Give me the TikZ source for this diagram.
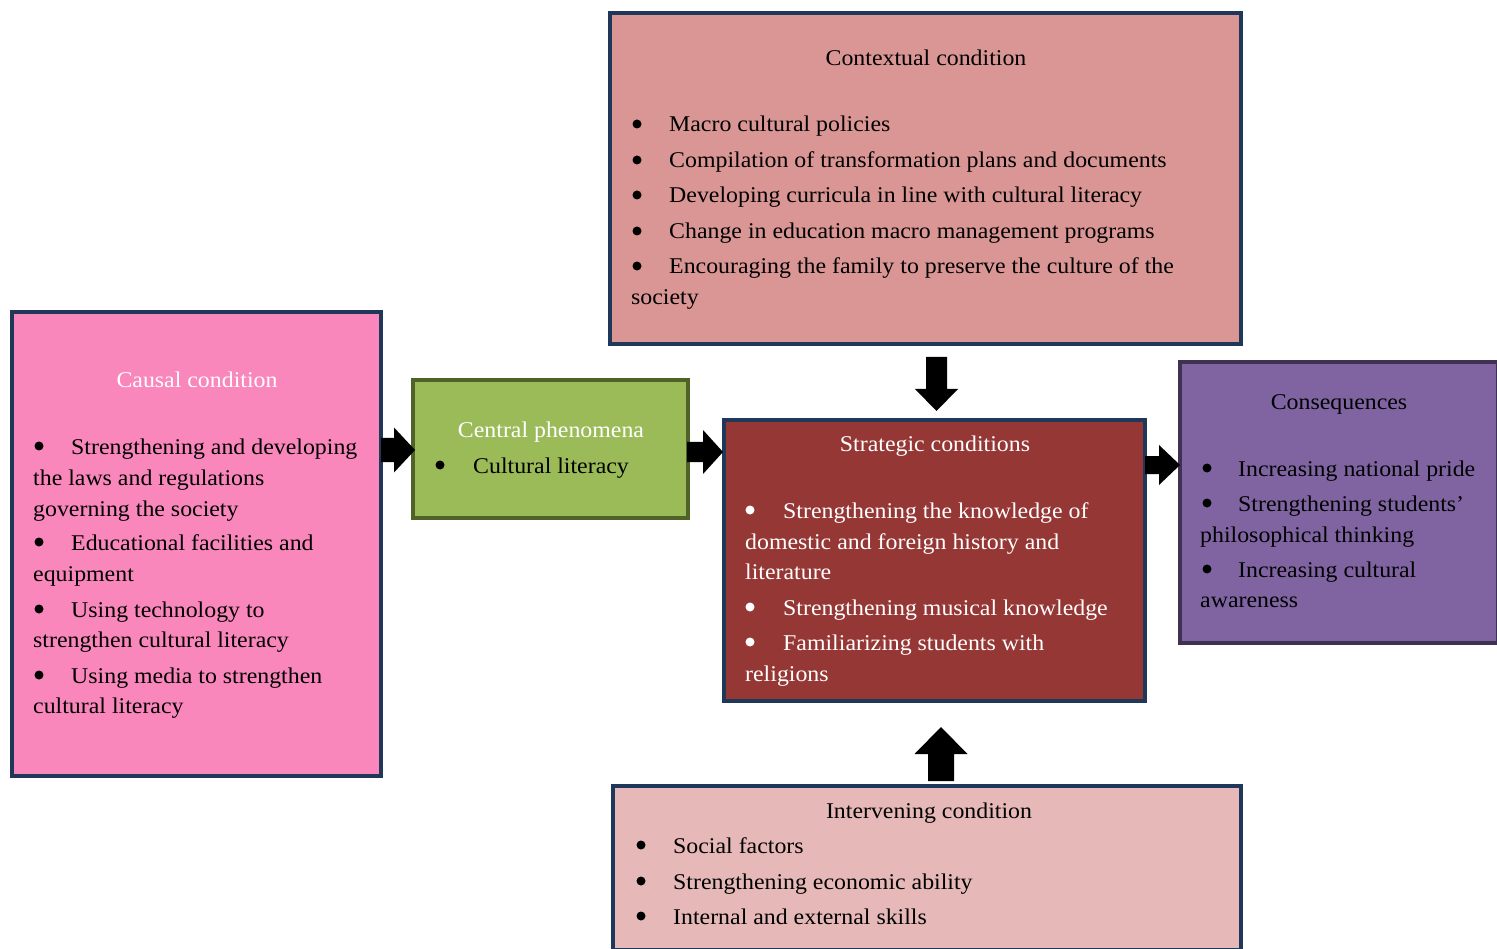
\documentclass[tikz,border=0pt]{standalone}
\usepackage{fontspec}
\setmainfont{Liberation Serif}[FakeStretch=1.06]
\definecolor{navy}{RGB}{31,56,90}
\definecolor{causalfill}{RGB}{249,135,187}
\definecolor{contextfill}{RGB}{217,150,148}
\definecolor{centralfill}{RGB}{155,187,89}
\definecolor{centralline}{RGB}{79,98,40}
\definecolor{stratfill}{RGB}{149,55,53}
\definecolor{consfill}{RGB}{128,100,162}
\definecolor{consline}{RGB}{63,49,81}
\definecolor{intfill}{RGB}{230,185,184}
\tikzset{
  box/.style={draw=navy, line width=4pt, inner sep=0pt},
  txt/.style={anchor=base west, inner sep=0pt, yshift=-7pt, font=\fontsize{22.5}{26}\selectfont},
  ttl/.style={anchor=base, inner sep=0pt, yshift=-7pt, font=\fontsize{22.5}{26}\selectfont},
  bul/.style={circle, inner sep=0pt, minimum size=9pt},
  blockarrow/.style={fill=black, draw=none},
}
% right-pointing block arrow: x0, x1, yc, shaft half, head half, head length
\newcommand\rblockarrow[6]{\fill[blockarrow] (#1,#3-#4) -- (#2-#6,#3-#4) -- (#2-#6,#3-#5) -- (#2,#3) -- (#2-#6,#3+#5) -- (#2-#6,#3+#4) -- (#1,#3+#4) -- cycle;}
% vertical block arrow: xc, y0 (tail), y1 (tip), shaft half, head half, head length (signed)
\newcommand\vblockarrow[6]{\fill[blockarrow] (#1-#4,#2) -- (#1-#4,#3-#6) -- (#1-#5,#3-#6) -- (#1,#3) -- (#1+#5,#3-#6) -- (#1+#4,#3-#6) -- (#1+#4,#2) -- cycle;}
\begin{document}
\begin{tikzpicture}[x=1pt,y=-1pt]
\useasboundingbox (0,0) rectangle (1497,949);
% boxes
\node[box, fill=causalfill, minimum width=369pt, minimum height=464pt] (causal) at (196.5,544) {};
\node[box, draw=centralline, fill=centralfill, minimum width=275pt, minimum height=138pt] (central) at (550.5,449) {};
\node[box, fill=contextfill, minimum width=631pt, minimum height=331pt] (context) at (925.5,178.5) {};
\node[box, fill=stratfill, minimum width=421pt, minimum height=281pt] (strat) at (934.5,560.5) {};
\node[box, draw=consline, fill=consfill, minimum width=318pt, minimum height=281pt] (cons) at (1339,502.5) {};
\node[box, fill=intfill, minimum width=628pt, minimum height=164pt] (interv) at (927,868) {};
% block arrows
\rblockarrow{381}{415}{450}{12}{22.5}{21}
\rblockarrow{687}{723}{452}{10}{22}{20}
\rblockarrow{1145}{1180}{465}{9}{20}{21}
\vblockarrow{936.5}{357}{411}{10.5}{21.5}{22}
\vblockarrow{941}{781}{727}{13}{26.5}{-27}
% contextual
\node[ttl] (ct) at (926,59) {Contextual condition};
\foreach \y/\t [count=\i] in {125/Macro cultural policies,161/Compilation of transformation plans and documents,196/Developing curricula in line with cultural literacy,232/Change in education macro management programs,267/Encouraging the family to preserve the culture of the}{
  \node[bul, fill=black] (cb\i) at (637,\y-1) {};
  \node[txt] (cl\i) at (669,\y) {\t};
}
\node[txt] (cl6) at (631,298) {society};
% causal
\node[ttl, text=white] (ca) at (197,381) {Causal condition};
\foreach \y/\t [count=\i] in {447/Strengthening and developing,543/Educational facilities and,610/Using technology to,676/Using media to strengthen}{
  \node[bul, fill=black] (kb\i) at (39,\y-1) {};
  \node[txt] (kl\i) at (71,\y) {\t};
}
\foreach \y/\t [count=\i] in {478/the laws and regulations,509/governing the society,574/equipment,640/strengthen cultural literacy,706/cultural literacy}{
  \node[txt] (kc\i) at (33,\y) {\t};
}
% central
\node[ttl, text=white] (cp) at (551,431) {Central phenomena};
\node[bul, fill=black] (pb1) at (440,465) {};
\node[txt] (pl1) at (473,466) {Cultural literacy};
% strategic
\node[ttl, text=white] (st) at (935,445) {Strategic conditions};
\foreach \y/\t [count=\i] in {511/Strengthening the knowledge of,608/Strengthening musical knowledge,643/Familiarizing students with}{
  \node[bul, fill=white] (sb\i) at (750,\y-1) {};
  \node[txt, text=white] (sl\i) at (783,\y) {\t};
}
\foreach \y/\t [count=\i] in {542/domestic and foreign history and,572/literature,674/religions}{
  \node[txt, text=white] (sc\i) at (745,\y) {\t};
}
% consequences
\node[ttl] (cs) at (1339,403) {Consequences};
\foreach \y/\t [count=\i] in {469/Increasing national pride,504/Strengthening students\char39,570/Increasing cultural}{
  \node[bul, fill=black] (qb\i) at (1207,\y-1) {};
  \node[txt] (ql\i) at (1238,\y) {\t};
}
\foreach \y/\t [count=\i] in {535/philosophical thinking,600/awareness}{
  \node[txt] (qc\i) at (1200,\y) {\t};
}
% intervening
\node[ttl] (it) at (929,811) {Intervening condition};
\foreach \y/\t [count=\i] in {846/Social factors,882/Strengthening economic ability,917/Internal and external skills}{
  \node[bul, fill=black] (ib\i) at (641,\y-1) {};
  \node[txt] (il\i) at (673,\y) {\t};
}
\end{tikzpicture}
\end{document}
